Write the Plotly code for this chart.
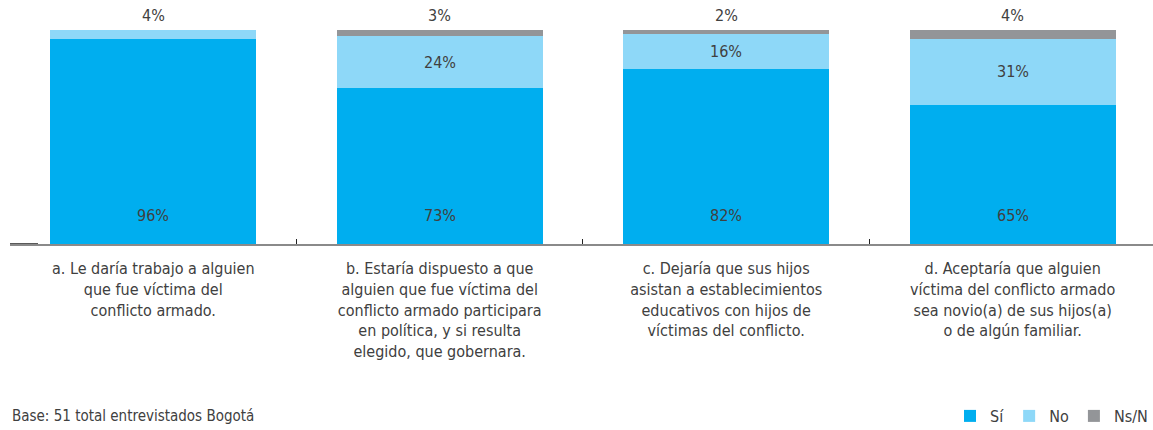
import plotly.graph_objects as go

categories = [
    "a. Le daría trabajo a alguien<br>que fue víctima del<br>conflicto armado.",
    "b. Estaría dispuesto a que<br>alguien que fue víctima del<br>conflicto armado participara<br>en política, y si resulta<br>elegido, que gobernara.",
    "c. Dejaría que sus hijos<br>asistan a establecimientos<br>educativos con hijos de<br>víctimas del conflicto.",
    "d. Aceptaría que alguien<br>víctima del conflicto armado<br>sea novio(a) de sus hijos(a)<br>o de algún familiar.",
]
si = [96, 73, 82, 65]
no = [4, 24, 16, 31]
nsn = [0, 3, 2, 4]
series_names = ["Sí", "No", "Ns/N"]
colors = ["#00AEEF", "#8ED8F8", "#939598"]
base_text = "Base: 51 total entrevistados Bogotá"

FONT = "DejaVu Sans Condensed, Liberation Sans Narrow, sans-serif"
TXT = "#404040"

fig = go.Figure()
for name, vals, col in zip(series_names, [si, no, nsn], colors):
    fig.add_trace(go.Bar(
        x=categories, y=vals, name=name, marker=dict(color=col, line=dict(width=0)),
        width=0.72, hoverinfo="skip",
    ))

annotations = []
for i, cat in enumerate(categories):
    annotations.append(dict(x=cat, y=0, yref="y", text=f"{si[i]}%", showarrow=False,
                            yanchor="middle", yshift=29, font=dict(size=16, color=TXT, family=FONT)))
    if nsn[i] > 0:
        annotations.append(dict(x=cat, y=si[i] + no[i] / 2, yref="y", text=f"{no[i]}%", showarrow=False,
                                yanchor="middle", font=dict(size=16, color=TXT, family=FONT)))
        annotations.append(dict(x=cat, y=si[i] + no[i] + nsn[i], yref="y", text=f"{nsn[i]}%", showarrow=False,
                                yanchor="bottom", yshift=3, font=dict(size=16, color=TXT, family=FONT)))
    else:
        annotations.append(dict(x=cat, y=si[i] + no[i], yref="y", text=f"{no[i]}%", showarrow=False,
                                yanchor="bottom", yshift=3, font=dict(size=16, color=TXT, family=FONT)))

annotations.append(dict(x=0, xref="paper", y=-0.804, yref="paper", text=base_text, showarrow=False,
                        xanchor="left", yanchor="middle", font=dict(size=15, color=TXT, family=FONT)))

fig.update_layout(
    barmode="stack",
    width=1153, height=430,
    margin=dict(l=10, r=0, t=30, b=186, pad=0, autoexpand=False),
    plot_bgcolor="white", paper_bgcolor="white",
    font=dict(family=FONT, size=16, color=TXT),
    showlegend=True,
    legend=dict(orientation="h", x=1, xanchor="right", y=14 / 430, yref="container", yanchor="middle",
                font=dict(size=16, color=TXT, family=FONT), traceorder="normal",
                itemwidth=30, bgcolor="rgba(0,0,0,0)"),
    annotations=annotations,
    shapes=[dict(type="line", xref="paper", yref="y", x0=0, x1=28 / 1143, y0=0, y1=0,
                 line=dict(color="#222222", width=1.5))],
)
fig.update_xaxes(
    range=[-0.5, 3.49], showline=True, linecolor="#8a8a8a", linewidth=1.5,
    ticks="inside", tickson="boundaries", ticklen=5, tickcolor="#222222", tickwidth=1,
    showgrid=False, zeroline=False, tickfont=dict(size=16, color=TXT, family=FONT),
    ticklabelstandoff=9, fixedrange=True,
)
fig.update_yaxes(range=[0, 100], visible=False, showgrid=False, zeroline=False, fixedrange=True)

fig.write_html("out.html", config={"displayModeBar": False},
               post_script="document.body.style.margin='0';document.body.style.overflow='hidden';")
